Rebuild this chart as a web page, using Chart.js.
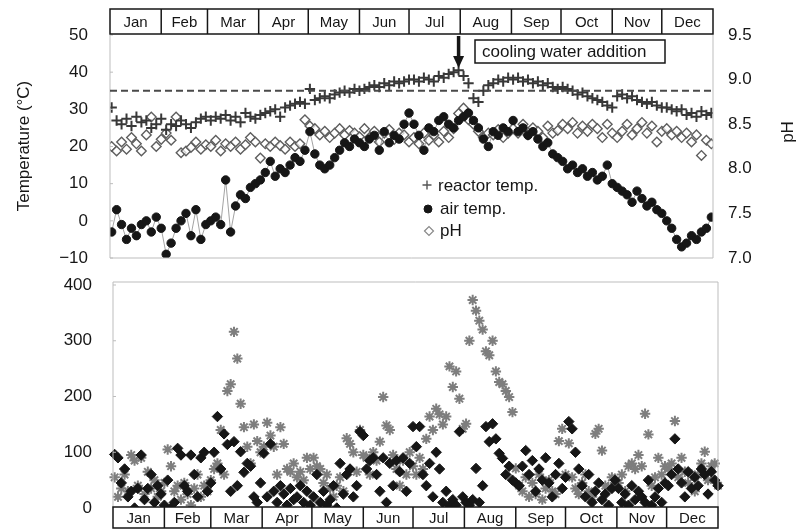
<!DOCTYPE html>
<html>
<head>
<meta charset="utf-8">
<script src="https://cdn.jsdelivr.net/npm/chart.js@4.4.1/dist/chart.umd.min.js"></script>
<style>
html, body { margin: 0; padding: 0; background: #fff; }
#wrap { position: relative; width: 801px; height: 529px; }
#top { position: absolute; left: 0; top: 0; }
#bot { position: absolute; left: 0; top: 270px; }
</style>
</head>
<body>
<div id="wrap">
  <canvas id="top" width="801" height="270"></canvas>
  <canvas id="bot" width="801" height="259"></canvas>
</div>
<script>
// top panel sampled every 3rd day, bottom panel every 2nd day, from Jan 1
const tempStep = 3;
const nStep = 2;
const monthNames = ['Jan', 'Feb', 'Mar', 'Apr', 'May', 'Jun', 'Jul', 'Aug', 'Sep', 'Oct', 'Nov', 'Dec'];
const monthStarts = [0, 31, 59, 90, 120, 151, 181, 212, 243, 273, 304, 334, 365];
const tempTicks = [-10, 0, 10, 20, 30, 40, 50];
const phTicks = [7.0, 7.5, 8.0, 8.5, 9.0, 9.5];
const nTicks = [0, 100, 200, 300, 400];
const setPoint = 35;       // dashed line, deg C
const coolingDay = 211;    // arrow

const reactorTemp = [
  30.5, 27, 26, 27.5, 25.5, 28, 26.5, 27, 25, 26, 27.5,
  24.5, 26, 25.5, 27, 26, 25, 26.5, 27.5, 28,
  27, 28, 27.5, 28.5, 27, 28, 26.5, 29, 28, 27.5,
  28.5, 29, 29.5, 30, 28, 30.5, 31, 31.5, 32, 31.5,
  35.5, 32.5, 33, 33.5, 33, 34, 34.5, 35, 34.5, 35.5, 35,
  35.5, 36, 36.5, 36, 37, 36.5, 37.5, 37, 37.5, 38,
  38, 37.5, 38.5, 38, 37.5, 39, 38.5, 39.5, 40, 40.5,
  39, 37, 33, 32, 35, 36.5, 37, 38, 37.5, 38.5,
  38, 38.5, 37.5, 38, 37, 37.5, 36.5, 37, 36, 35.5,
  36, 35.5, 35, 34, 34.5, 33.5, 33, 32.5, 32, 31, 30.5,
  33.5, 34, 33, 33.5, 32.5, 32, 31.5, 32, 31, 30.5,
  30.5, 30, 29.5, 30, 28.5, 29, 28, 29.5, 28.5, 29
];
const airTemp = [
  -3, 3, -1, -5, -2, -4, -1, 0, -3, 1, -2,
  -9, -6, -2, 0, 2, -4, 3, -5, -1,
  0, 1, -1, 11, -3, 4, 7, 6, 9, 10,
  11, 13, 16, 12, 14, 13, 15, 17, 16, 19,
  24, 18, 15, 14, 15, 17, 19, 21, 20, 22, 21,
  20, 22, 23, 19, 24, 21, 23, 22, 26, 29,
  26, 23, 19, 25, 24, 27, 28, 26, 25, 27,
  28, 29, 27, 25, 22, 20, 24, 23, 25, 24,
  27, 24, 25, 23, 24, 22, 20, 21, 18, 17,
  16, 14, 15, 13, 14, 12, 13, 11, 12, 15, 10,
  9, 8, 7, 5, 8, 6, 4, 5, 3, 2,
  0, -2, -5, -7, -6, -4, -5, -3, -2, 1
];
const phValues = [
  8.25, 8.2, 8.3, 8.22, 8.35, 8.28, 8.2, 8.38, 8.58, 8.25, 8.33,
  8.4, 8.32, 8.58, 8.18, 8.2, 8.24, 8.3, 8.22, 8.27,
  8.25, 8.32, 8.2, 8.28, 8.25, 8.3, 8.22, 8.27, 8.35, 8.3,
  8.12, 8.28, 8.25, 8.3, 8.26, 8.22, 8.3, 8.25, 8.28, 8.55,
  8.48, 8.45, 8.38, 8.42, 8.35, 8.4, 8.45, 8.38, 8.43, 8.4, 8.36,
  8.45, 8.35, 8.42, 8.3, 8.4, 8.44, 8.33, 8.4, 8.38, 8.3,
  8.35, 8.28, 8.4, 8.32, 8.38, 8.3, 8.42, 8.35, 8.45, 8.62,
  8.68, 8.55, 8.5, 8.42, 8.35, 8.4, 8.38, 8.44, 8.35, 8.4,
  8.45, 8.4, 8.5, 8.38, 8.46, 8.42, 8.35, 8.48, 8.4, 8.43,
  8.5, 8.45, 8.52, 8.4, 8.48, 8.42, 8.5, 8.45, 8.35, 8.5, 8.4,
  8.35, 8.42, 8.5, 8.38, 8.45, 8.52, 8.4, 8.48, 8.3, 8.42,
  8.45, 8.38, 8.42, 8.35, 8.4, 8.3, 8.38, 8.15, 8.32, 8.28
];
const nh4N = [
  55, 20, 35, 60, 30, 95, 85, 40, 90, 25, 65, 35, 50, 20, 30, 45,
  105, 75, 30, 40, 15, 45, 25, 5, 35, 60, 20, 40, 30, 50,
  70, 80, 140, 60, 210, 222, 316, 268, 187, 145, 110, 80, 150, 120, 100,
  110, 153, 130, 110, 60, 145, 115, 70, 65, 80, 55, 65, 50, 90, 70,
  90, 75, 70, 45, 60, 35, 20, 40, 55, 30, 125, 115, 100, 65, 140, 95,
  90, 60, 100, 85, 119, 199, 148, 140, 95, 70, 40, 85, 60, 100, 75,
  60, 90, 70, 124, 164, 140, 178, 168, 150, 164, 254, 217, 245, 196, 142,
  151, 300, 373, 354, 336, 320, 281, 274, 300, 245, 226, 222, 210, 199, 172, 71,
  40, 30, 55, 20, 45, 25, 60, 15, 35, 50, 30, 25, 120, 142, 60,
  116, 55, 35, 25, 45, 60, 30, 20, 133, 142, 103, 40, 35, 55, 45,
  45, 60, 30, 75, 80, 70, 95, 75, 169, 132, 40, 55, 90, 60, 75,
  70, 80, 156, 55, 90, 65, 45, 60, 30, 60, 80, 101, 50, 75, 80, 40
];
const noxN = [
  96, 90, 45, 70, 20, 30, 0, 35, 95, 15, 35, 60, 10, 40, 25, 5,
  50, 0, 10, 107, 95, 40, 30, 95, 60, 20, 90, 100, 30, 45,
  100, 164, 70, 133, 114, 30, 119, 40, 101, 64, 80, 75, 20, 10, 45,
  98, 20, 115, 30, 10, 40, 25, 5, 35, 15, 20, 40, 10, 30, 5,
  20, 60, 10, 30, 5, 15, 40, 0, 80, 25, 60, 70, 20, 40, 137, 130,
  70, 85, 90, 60, 30, 90, 10, 80, 40, 85, 65, 90, 30, 80, 146,
  110, 146, 60, 40, 80, 20, 100, 70, 10, 30, 5, 15, 5, 137, 20,
  10, 5, 15, 71, 10, 40, 146, 119, 151, 124, 98, 89, 60, 75, 50, 45,
  40, 75, 103, 60, 85, 30, 70, 50, 90, 45, 20, 60, 80, 35, 55,
  155, 142, 100, 70, 40, 20, 60, 10, 30, 45, 15, 25, 5, 35, 50,
  35, 10, 25, 5, 40, 15, 30, 20, 10, 50, 5, 20, 35, 10, 45,
  40, 60, 124, 70, 45, 20, 65, 35, 55, 40, 70, 60, 25, 65, 50, 40
];

const tempDays = reactorTemp.map((_, i) => 1 + i * tempStep);
const nDays = nh4N.map((_, i) => 1 + i * nStep);
const pts = (days, arr) => arr.map((v, i) => ({ x: days[i], y: v }));

const FONT = '"Liberation Sans", Arial, Helvetica, sans-serif';
const INK = '#161616';

function drawMonthBoxes(ctx, xs, y0, h) {
  ctx.save();
  const xa = xs.getPixelForValue(monthStarts[0]);
  const xb = xs.getPixelForValue(monthStarts[12]);
  ctx.fillStyle = '#fff';
  ctx.fillRect(xa, y0, xb - xa, h);
  ctx.strokeStyle = INK;
  ctx.lineWidth = 1.5;
  ctx.strokeRect(xa, y0, xb - xa, h);
  ctx.fillStyle = INK;
  ctx.font = '15px ' + FONT;
  ctx.textAlign = 'center';
  ctx.textBaseline = 'middle';
  for (let i = 0; i < 12; i++) {
    const a = xs.getPixelForValue(monthStarts[i]);
    const b = xs.getPixelForValue(monthStarts[i + 1]);
    if (i > 0) {
      ctx.beginPath();
      ctx.moveTo(a, y0);
      ctx.lineTo(a, y0 + h);
      ctx.stroke();
    }
    ctx.fillText(monthNames[i], (a + b) / 2, y0 + h / 2 + 1);
  }
  ctx.restore();
}

function vText(ctx, text, x, y, size) {
  ctx.save();
  ctx.translate(x, y);
  ctx.rotate(-Math.PI / 2);
  ctx.font = size + 'px ' + FONT;
  ctx.fillStyle = INK;
  ctx.textAlign = 'center';
  ctx.textBaseline = 'middle';
  ctx.fillText(text, 0, 0);
  ctx.restore();
}

function legendMark(ctx, style, x, y, r, fill, stroke, bw) {
  ctx.save();
  ctx.fillStyle = fill;
  ctx.strokeStyle = stroke;
  ctx.lineWidth = bw;
  Chart.helpers.drawPoint(ctx, { pointStyle: style, radius: r, borderWidth: bw, rotation: 0 }, x, y);
  ctx.restore();
}

// axis box: fixed width, no extra room for half tick labels
const fixAxis = w => s => { s.width = w; s.paddingTop = 0; s.paddingBottom = 0; };
const minusLabel = v => (v < 0 ? '\u2212' + Math.abs(v) : String(v));

const topDecor = {
  id: 'topDecor',
  afterDraw(chart) {
    const { ctx, chartArea: ca, scales } = chart;
    const xs = scales.x, ys = scales.y;
    ctx.save();
    // light frame
    ctx.strokeStyle = '#bdbdbd';
    ctx.lineWidth = 1;
    ctx.beginPath();
    ctx.moveTo(ca.left, ca.top); ctx.lineTo(ca.left, ca.bottom);
    ctx.lineTo(ca.right, ca.bottom); ctx.lineTo(ca.right, ca.top);
    ctx.stroke();
    tempTicks.forEach(t => {
      const y = ys.getPixelForValue(t);
      ctx.beginPath(); ctx.moveTo(ca.left, y); ctx.lineTo(ca.left + 3, y); ctx.stroke();
    });
    // dashed set point
    ctx.strokeStyle = '#4a4a4a';
    ctx.lineWidth = 2;
    ctx.setLineDash([7, 4]);
    const yd = ys.getPixelForValue(setPoint);
    ctx.beginPath(); ctx.moveTo(ca.left, yd); ctx.lineTo(ca.right, yd); ctx.stroke();
    ctx.setLineDash([]);
    // arrow
    const xa = xs.getPixelForValue(coolingDay);
    ctx.strokeStyle = INK; ctx.fillStyle = INK;
    ctx.lineWidth = 3.5;
    ctx.beginPath(); ctx.moveTo(xa, ca.top + 1); ctx.lineTo(xa, ca.top + 23); ctx.stroke();
    ctx.beginPath();
    ctx.moveTo(xa - 5.5, ca.top + 21); ctx.lineTo(xa + 5.5, ca.top + 21); ctx.lineTo(xa, ca.top + 33);
    ctx.closePath(); ctx.fill();
    // annotation box
    ctx.lineWidth = 1.5;
    ctx.fillStyle = '#fff';
    ctx.fillRect(475, 40, 190, 23);
    ctx.strokeRect(475, 40, 190, 23);
    ctx.fillStyle = INK;
    ctx.font = '17px ' + FONT;
    ctx.textAlign = 'left'; ctx.textBaseline = 'middle';
    ctx.fillText('cooling water addition', 482, 52);
    // legend
    legendMark(ctx, 'cross', 427, 185, 4.5, '#555', '#555', 1.4);
    legendMark(ctx, 'circle', 428, 209, 4, INK, INK, 1);
    legendMark(ctx, 'rectRot', 429, 231, 4.5, '#fff', '#888', 1.2);
    ctx.fillStyle = INK;
    ctx.font = '17px ' + FONT;
    ctx.fillText('reactor temp.', 438, 186);
    ctx.fillText('air temp.', 440, 209);
    ctx.fillText('pH', 440, 231);
    ctx.restore();
    drawMonthBoxes(ctx, xs, 9, 25);
    vText(ctx, 'Temperature (\u00B0C)', 24, 146, 17);
    vText(ctx, 'pH', 788, 132, 17);
  }
};

const botDecor = {
  id: 'botDecor',
  afterDatasetsDraw(chart) {
    const { ctx, chartArea: ca, scales } = chart;
    const xs = scales.x, ys = scales.y;
    ctx.save();
    ctx.strokeStyle = '#bdbdbd';
    ctx.lineWidth = 1;
    ctx.beginPath();
    ctx.moveTo(ca.left, ca.bottom); ctx.lineTo(ca.left, ca.top - 3);
    ctx.lineTo(ca.right, ca.top - 3); ctx.lineTo(ca.right, ca.bottom);
    ctx.stroke();
    nTicks.forEach(t => {
      const y = ys.getPixelForValue(t);
      ctx.beginPath(); ctx.moveTo(ca.left, y); ctx.lineTo(ca.left + 3, y); ctx.stroke();
    });
    // legend
    legendMark(ctx, 'star', 625, 317, 4, '#888', '#888', 1.3);
    legendMark(ctx, 'rectRot', 624, 348, 4.5, INK, INK, 1);
    ctx.fillStyle = INK;
    ctx.textAlign = 'left'; ctx.textBaseline = 'middle';
    ctx.font = '17px ' + FONT;
    let w = ctx.measureText('NH').width;
    ctx.fillText('NH', 636, 317);
    ctx.font = '11px ' + FONT;
    ctx.fillText('4', 636 + w - 1, 322);
    ctx.font = '17px ' + FONT;
    ctx.fillText('\u2212N', 636 + w + 5, 317);
    w = ctx.measureText('NO').width;
    ctx.fillText('NO', 635, 348);
    ctx.font = '11px ' + FONT;
    ctx.fillText('x', 635 + w, 353);
    ctx.font = '17px ' + FONT;
    ctx.fillText('\u2212N', 635 + w + 6, 348);
    ctx.restore();
    drawMonthBoxes(ctx, xs, ca.bottom - 1, chart.height - ca.bottom);
    vText(ctx, 'Soluble\u2212N conc.  (mg/L)', 24, 397, 17);
  }
};

const tickFont = { family: FONT, size: 17 };

new Chart(document.getElementById('top'), {
  type: 'scatter',
  data: {
    datasets: [
      {
        label: 'air temp.', data: pts(tempDays, airTemp), yAxisID: 'y', order: 1,
        showLine: true, borderColor: '#8c8c8c', borderWidth: 0.8,
        pointStyle: 'circle', pointRadius: 4.2,
        pointBackgroundColor: INK, pointBorderColor: INK, pointBorderWidth: 1
      },
      {
        label: 'reactor temp.', data: pts(tempDays, reactorTemp), yAxisID: 'y', order: 2,
        pointStyle: 'cross', pointRadius: 5.2,
        pointBorderColor: '#383838', pointBackgroundColor: '#383838', pointBorderWidth: 2
      },
      {
        label: 'pH', data: pts(tempDays, phValues), yAxisID: 'y2', order: 3,
        pointStyle: 'rectRot', pointRadius: 4.8,
        pointBorderColor: '#5e5e5e', pointBackgroundColor: 'rgba(255,255,255,0.7)', pointBorderWidth: 1.4
      }
    ]
  },
  options: {
    responsive: false,
    animation: false,
    devicePixelRatio: 1,
    layout: { padding: { top: 35, bottom: 12, left: 0, right: 0 } },
    plugins: { legend: { display: false }, tooltip: { enabled: false } },
    scales: {
      x: { type: 'linear', min: 0, max: 365, display: false },
      y: {
        position: 'left', min: -10, max: 50,
        afterFit: fixAxis(110),
        grid: { display: false, drawTicks: false }, border: { display: false },
        afterBuildTicks: s => { s.ticks = tempTicks.map(v => ({ value: v })); },
        ticks: { padding: 22, color: INK, font: tickFont, callback: minusLabel }
      },
      y2: {
        position: 'right', min: 7, max: 9.5,
        afterFit: fixAxis(88),
        grid: { display: false, drawTicks: false }, border: { display: false },
        afterBuildTicks: s => { s.ticks = phTicks.map(v => ({ value: v })); },
        ticks: { padding: 15, color: INK, font: tickFont, callback: v => Number(v).toFixed(1) }
      }
    }
  },
  plugins: [topDecor]
});

new Chart(document.getElementById('bot'), {
  type: 'scatter',
  data: {
    datasets: [
      {
        label: 'NOx-N', data: pts(nDays, noxN), order: 1, clip: false,
        pointStyle: 'rectRot', pointRadius: 5.2,
        pointBackgroundColor: INK, pointBorderColor: INK, pointBorderWidth: 1
      },
      {
        label: 'NH4-N', data: pts(nDays, nh4N), order: 2, clip: false,
        pointStyle: 'star', pointRadius: 5.2,
        pointBackgroundColor: '#7e7e7e', pointBorderColor: '#7e7e7e', pointBorderWidth: 2
      }
    ]
  },
  options: {
    responsive: false,
    animation: false,
    devicePixelRatio: 1,
    layout: { padding: { top: 15, bottom: 21, left: 0, right: 83 } },
    plugins: { legend: { display: false }, tooltip: { enabled: false } },
    scales: {
      x: { type: 'linear', min: 0, max: 365, display: false },
      y: {
        position: 'left', min: 0, max: 400,
        afterFit: fixAxis(113),
        grid: { display: false, drawTicks: false }, border: { display: false },
        afterBuildTicks: s => { s.ticks = nTicks.map(v => ({ value: v })); },
        ticks: { padding: 21, color: INK, font: tickFont }
      }
    }
  },
  plugins: [botDecor]
});
</script>
</body>
</html>
